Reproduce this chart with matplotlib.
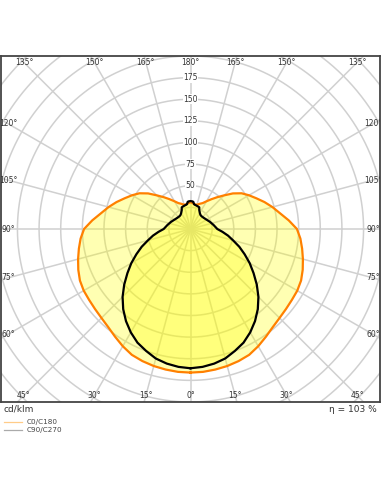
import numpy as np
import matplotlib
matplotlib.use("Agg")
import matplotlib.pyplot as plt

# ---- data (angle in degrees from nadir, intensity in cd/klm) ----
c0_angles = [0, 5, 10, 15, 20, 25, 30, 35, 40, 45, 50, 55, 60, 65, 70, 75, 80, 85,
             90, 95, 100, 105, 110, 115, 120, 125, 130, 135, 140, 145, 150, 155,
             160, 165, 170, 175, 180]
c0_values = [166, 165.8, 165, 164, 162.5, 160.5, 156.5, 152, 148, 145.5, 144, 143,
             142.5, 141, 138, 134.5, 131, 127.5, 123, 114, 105, 98, 91, 84, 78, 72,
             64, 55, 48, 42, 37, 33, 31, 29, 29, 30, 31]

c90_angles = [0, 5, 10, 15, 20, 25, 30, 35, 40, 45, 50, 55, 60, 65, 70, 75, 80, 85,
              90, 100, 110, 120, 130, 140, 145, 150, 155, 158, 162, 166, 170, 172,
              174, 176, 180]
c90_values = [161, 160, 158, 155, 150, 145, 138, 130, 121, 111, 100, 89, 79, 69, 60,
              51, 44, 37, 31, 27, 24, 21.5, 20, 19.5, 20, 21.5, 24, 27, 27.5, 28,
              28.5, 29, 31.5, 32, 32.3]

ring_values = [25, 50, 75, 100, 125, 150, 175, 200, 225, 250, 275, 300, 325]
ring_labels = [50, 75, 100, 125, 150, 175]
angle_ticks = [0, 15, 30, 45, 60, 75, 90, 105, 120, 135, 150, 165, 180]
efficiency = "η = 103 %"
unit_label = "cd/klm"
legend_names = ["C0/C180", "C90/C270"]

XL, YL = 219.0, 200.0

fig = plt.figure(figsize=(3.81, 4.92), dpi=100)
ax = fig.add_axes([1 / 381, 1 - 402 / 492, 379 / 381, 346 / 492])
ax.set_xlim(-XL, XL)
ax.set_ylim(-YL, YL)
ax.set_xticks([])
ax.set_yticks([])
for s in ax.spines.values():
    s.set_color("#444444")
    s.set_linewidth(1.3)

grid_col = "#d0d0d0"
t = np.linspace(0, 2 * np.pi, 400)
for r in ring_values:
    ax.plot(r * np.cos(t), r * np.sin(t), color=grid_col, lw=1.1, zorder=1)
for a in range(0, 360, 15):
    th = np.radians(a)
    ax.plot([0, 400 * np.sin(th)], [0, -400 * np.cos(th)], color=grid_col, lw=1.1, zorder=1)


def to_xy(angles, values):
    ang = np.radians(np.asarray(angles, float))
    val = np.asarray(values, float)
    a_full = np.concatenate([ang, -ang[::-1]])
    v_full = np.concatenate([val, val[::-1]])
    return v_full * np.sin(a_full), -v_full * np.cos(a_full)


x0, y0 = to_xy(c0_angles, c0_values)
x9, y9 = to_xy(c90_angles, c90_values)
ax.fill(x0, y0, color="#ffff00", alpha=0.3, lw=0, zorder=2)
ax.fill(x9, y9, color="#ffff00", alpha=0.3, lw=0, zorder=2)
ax.plot(x0, y0, color="#ff8000", lw=1.6, zorder=4, solid_joinstyle="round")
ax.plot(x9, y9, color="#000000", lw=1.6, zorder=5, solid_joinstyle="round")

for r in ring_labels:
    ax.text(0, r, str(r), ha="center", va="center", fontsize=5.5, color="#333333",
            zorder=6, bbox=dict(boxstyle="square,pad=0.05", fc="white", ec="none"))

mx, my = 8.0, 7.5
for a in angle_ticks:
    for sgn in ([1] if a in (0, 180) else [1, -1]):
        th = np.radians(a)
        dx, dy = sgn * np.sin(th), -np.cos(th)
        sx = (XL - mx) / abs(dx) if abs(dx) > 1e-9 else np.inf
        sy = (YL - my) / abs(dy) if abs(dy) > 1e-9 else np.inf
        if sy <= sx:
            px, py = dx * sy, dy * sy
        else:
            px, py = dx * sx, dy * sx
        ax.text(px, py, f"{a}°", ha="center", va="center", fontsize=5.5,
                color="#333333", zorder=7, clip_on=True)

fig.text(4 / 381, 1 - 409 / 492, unit_label, ha="left", va="center", fontsize=6.5,
         color="#333333")
fig.text(377 / 381, 1 - 409 / 492, efficiency, ha="right", va="center", fontsize=6.5,
         color="#333333")

leg_cols = ["#ffcc88", "#aaaaaa"]
for i, (name, c) in enumerate(zip(legend_names, leg_cols)):
    yy = 1 - (422 + 8 * i) / 492
    fig.add_artist(plt.Line2D([4 / 381, 22 / 381], [yy, yy], color=c, lw=0.9,
                              transform=fig.transFigure))
    fig.text(27 / 381, yy, name, ha="left", va="center", fontsize=5.2, color="#444444")

fig.savefig("out.png", dpi=100)
